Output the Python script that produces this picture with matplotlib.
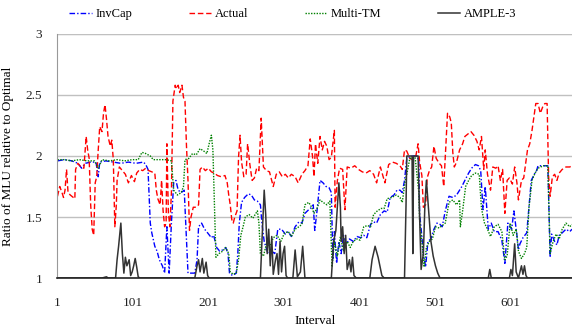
import matplotlib.pyplot as plt

plt.rcParams['font.family'] = ['Liberation Serif', 'DejaVu Serif']

# --- data ---
invcap_x = [1, 10, 20, 28, 33, 38, 45, 52, 55, 57, 65, 75, 85, 95, 105, 115, 118, 121, 124, 126,
            130, 133, 136, 140, 143, 146, 149, 152, 155, 158, 161, 165, 169, 172, 174, 178, 183, 186, 188, 192,
            196, 200, 205, 208, 212, 216, 220, 224, 227, 229, 233, 238, 240, 242, 245, 249, 254, 258, 262, 266,
            270, 272, 275, 280, 285, 289, 293, 298, 303, 307, 311, 316, 321, 325, 329, 334, 338, 340, 342, 345,
            349, 353, 357, 361, 364, 366, 368, 371, 374, 377, 380, 384, 388, 393, 398, 403, 407, 411, 416, 420,
            424, 429, 434, 438, 442, 447, 451, 455, 458, 461, 464, 470, 478, 480, 481, 484, 486, 489, 492, 496,
            500, 504, 508, 511, 515, 520, 525, 530, 534, 537, 541, 546, 550, 555, 559, 562, 565, 568, 572, 576,
            580, 585, 590, 594, 598, 603, 606, 610, 612, 614, 618, 623, 626, 629, 633, 636, 638, 645, 651, 654,
            656, 660, 663, 666, 670, 675, 680, 683]
invcap_y = [1.96, 1.97, 1.96, 1.94, 1.90, 1.94, 1.95, 1.95, 1.83, 1.95, 1.96, 1.95, 1.94, 1.95, 1.94, 1.95, 1.93, 1.89, 1.45, 1.37,
            1.26, 1.22, 1.15, 1.10, 1.04, 1.42, 1.04, 1.45, 1.78, 1.80, 1.72, 1.70, 1.72, 1.30, 1.04, 1.04, 1.04, 1.15, 1.42, 1.45,
            1.40, 1.37, 1.33, 1.35, 1.25, 1.22, 1.23, 1.25, 1.20, 1.04, 1.02, 1.04, 1.20, 1.45, 1.62, 1.66, 1.69, 1.68, 1.64, 1.63,
            1.60, 1.45, 1.30, 1.20, 1.22, 1.20, 1.40, 1.40, 1.36, 1.38, 1.34, 1.42, 1.46, 1.45, 1.53, 1.56, 1.58, 1.60, 1.39, 1.55,
            1.80, 1.78, 1.75, 1.74, 1.70, 1.15, 1.38, 1.12, 1.30, 1.20, 1.35, 1.28, 1.32, 1.30, 1.34, 1.33, 1.35, 1.33, 1.44, 1.46,
            1.45, 1.52, 1.55, 1.54, 1.66, 1.68, 1.72, 1.72, 1.70, 1.80, 1.98, 2.00, 2.00, 1.95, 1.53, 1.34, 1.20, 1.09, 1.30, 1.32,
            1.40, 1.45, 1.44, 1.42, 1.55, 1.67, 1.66, 1.68, 1.72, 1.75, 1.80, 1.86, 1.90, 1.93, 1.92, 1.88, 1.56, 1.75, 1.40, 1.45,
            1.38, 1.38, 1.31, 1.12, 1.45, 1.40, 1.55, 1.35, 1.23, 1.28, 1.33, 1.37, 1.58, 1.80, 1.85, 1.88, 1.92, 1.92, 1.92, 1.17,
            1.36, 1.30, 1.27, 1.35, 1.37, 1.40, 1.38, 1.40]

actual_x = [1, 4, 7, 9, 11, 13, 15, 18, 22, 24, 25, 28, 32, 36, 39, 41, 43, 45, 47, 49,
            51, 53, 55, 57, 60, 62, 64, 66, 68, 71, 73, 75, 77, 79, 80, 83, 87, 91, 95, 99,
            103, 106, 110, 114, 118, 122, 126, 130, 132, 134, 137, 139, 141, 143, 145, 146, 148, 150, 152, 154,
            157, 159, 161, 163, 166, 168, 170, 172, 174, 176, 178, 181, 185, 188, 190, 193, 197, 201, 205, 209,
            213, 218, 223, 226, 228, 230, 232, 234, 236, 239, 241, 243, 245, 248, 251, 253, 256, 259, 262, 265,
            268, 271, 274, 278, 282, 287, 291, 295, 299, 303, 307, 311, 316, 320, 325, 329, 333, 336, 339, 341,
            343, 346, 349, 352, 355, 358, 361, 364, 368, 369, 372, 375, 379, 382, 385, 390, 395, 400, 405, 410,
            415, 420, 424, 429, 435, 440, 445, 450, 455, 458, 461, 464, 468, 472, 476, 479, 481, 484, 486, 489,
            491, 494, 497, 500, 503, 507, 510, 513, 516, 518, 521, 523, 525, 527, 530, 534, 538, 541, 545, 549,
            553, 557, 560, 563, 566, 568, 571, 575, 578, 582, 585, 588, 591, 594, 597, 600, 604, 607, 610, 612,
            616, 619, 621, 624, 627, 630, 632, 635, 638, 641, 644, 647, 650, 652, 654, 657, 660, 663, 666, 670,
            675, 680, 683]
actual_y = [1.67, 1.75, 1.70, 1.66, 1.72, 1.89, 1.70, 1.68, 1.66, 1.65, 1.89, 1.94, 1.91, 1.90, 2.16, 2.05, 1.98, 1.60, 1.40, 1.35,
            1.78, 1.83, 2.05, 2.24, 2.20, 2.35, 2.42, 2.30, 2.16, 2.08, 2.13, 1.97, 1.42, 1.60, 1.80, 1.91, 1.88, 1.85, 1.78, 1.84,
            1.79, 1.86, 1.89, 1.88, 1.90, 1.88, 1.87, 1.86, 1.72, 1.65, 1.60, 1.80, 1.55, 1.42, 1.45, 2.10, 1.53, 1.42, 1.70, 2.45,
            2.58, 2.55, 2.58, 2.52, 2.58, 2.48, 2.45, 2.08, 1.80, 1.39, 1.50, 1.58, 1.58, 1.60, 1.89, 1.91, 1.88, 1.90, 1.87, 1.86,
            1.84, 1.83, 1.84, 1.78, 1.68, 1.60, 1.48, 1.45, 1.50, 1.55, 1.99, 2.17, 1.95, 1.83, 1.85, 2.10, 1.93, 1.80, 1.82, 1.90,
            1.88, 2.31, 1.91, 1.88, 1.87, 1.75, 1.85, 1.87, 1.83, 1.85, 1.82, 1.85, 1.83, 1.78, 1.85, 1.88, 1.92, 2.14, 2.00, 1.83,
            2.10, 1.94, 2.16, 2.05, 2.12, 2.08, 1.97, 1.99, 2.21, 1.58, 1.80, 1.90, 1.89, 1.56, 1.91, 1.90, 1.92, 1.89, 1.87, 1.86,
            1.88, 1.85, 1.78, 1.91, 1.78, 1.93, 1.95, 1.94, 1.92, 1.89, 2.05, 2.04, 1.98, 1.97, 2.00, 2.10, 1.95, 1.84, 1.58, 1.60,
            1.82, 1.88, 1.91, 2.08, 1.98, 1.94, 1.92, 1.75, 2.10, 2.35, 2.32, 2.27, 2.03, 1.91, 1.95, 2.05, 2.10, 2.16, 2.18, 2.20,
            2.17, 2.12, 2.05, 2.16, 1.89, 2.05, 1.85, 1.72, 1.91, 1.90, 1.92, 1.80, 1.89, 1.53, 1.80, 1.82, 1.77, 1.91, 1.78, 1.64,
            1.80, 1.82, 1.91, 2.05, 2.10, 2.21, 2.30, 2.43, 2.43, 2.35, 2.40, 2.43, 2.43, 1.83, 1.67, 1.83, 1.85, 1.80, 1.86, 1.89,
            1.91, 1.91, 1.92]

multitm_x = [1, 10, 20, 30, 40, 50, 55, 60, 70, 80, 90, 100, 108, 113, 118, 124, 128, 135, 145, 152,
             155, 160, 165, 168, 170, 175, 180, 185, 190, 195, 199, 202, 205, 207, 209, 211, 215, 220, 224, 228,
             230, 234, 238, 241, 244, 247, 250, 255, 260, 263, 266, 268, 270, 274, 278, 282, 287, 292, 297, 302,
             307, 311, 316, 321, 325, 329, 334, 338, 341, 345, 349, 353, 358, 362, 365, 368, 372, 376, 380, 385,
             389, 393, 398, 402, 407, 412, 416, 420, 425, 430, 434, 438, 444, 450, 455, 458, 462, 464, 468, 475,
             480, 481, 484, 487, 490, 494, 498, 502, 507, 511, 515, 520, 525, 530, 534, 535, 538, 542, 546, 550,
             555, 560, 563, 567, 571, 575, 580, 585, 590, 594, 597, 601, 605, 609, 612, 616, 620, 623, 626, 630,
             634, 638, 645, 651, 654, 658, 662, 666, 670, 675, 680, 683]
multitm_y = [1.97, 1.97, 1.96, 1.97, 1.96, 1.96, 1.90, 1.97, 1.96, 1.97, 1.96, 1.97, 1.97, 2.03, 2.02, 2.00, 1.97, 1.97, 1.97, 1.96,
             1.72, 1.68, 1.70, 1.75, 1.97, 1.98, 2.02, 2.01, 2.06, 2.04, 2.02, 2.10, 2.17, 2.05, 1.60, 1.17, 1.20, 1.22, 1.25, 1.20,
             1.05, 1.03, 1.04, 1.15, 1.35, 1.42, 1.50, 1.52, 1.49, 1.52, 1.55, 1.45, 1.20, 1.18, 1.28, 1.25, 1.33, 1.35, 1.30, 1.37,
             1.38, 1.34, 1.40, 1.42, 1.44, 1.60, 1.62, 1.58, 1.53, 1.57, 1.64, 1.62, 1.60, 1.63, 1.09, 1.30, 1.18, 1.34, 1.22, 1.30,
             1.25, 1.30, 1.32, 1.31, 1.42, 1.43, 1.42, 1.52, 1.55, 1.57, 1.57, 1.65, 1.66, 1.68, 1.66, 1.62, 1.80, 1.85, 1.98, 1.99,
             1.70, 1.47, 1.30, 1.09, 1.25, 1.30, 1.32, 1.42, 1.41, 1.43, 1.45, 1.62, 1.64, 1.60, 1.64, 1.42, 1.55, 1.75, 1.80, 1.84,
             1.86, 1.85, 1.57, 1.45, 1.40, 1.34, 1.42, 1.44, 1.38, 1.15, 1.18, 1.45, 1.35, 1.40, 1.22, 1.16, 1.20, 1.25, 1.58, 1.80,
             1.86, 1.90, 1.92, 1.92, 1.20, 1.30, 1.36, 1.32, 1.40, 1.45, 1.42, 1.44]

ample_x = [1, 60, 66, 68, 78, 80, 82, 85, 87, 89, 91, 93, 96, 98, 100, 102, 104, 106, 108, 110,
           183, 186, 188, 190, 193, 195, 198, 200, 202, 270, 272, 275, 277, 279, 281, 283, 285, 287, 290, 292,
           294, 296, 298, 300, 302, 304, 306, 313, 316, 319, 323, 326, 329, 364, 367, 370, 374, 376, 377, 379,
           381, 383, 385, 388, 390, 392, 394, 397, 415, 418, 422, 426, 431, 434, 461, 463, 464, 471, 472, 473,
           479, 481, 483, 486, 488, 490, 493, 496, 499, 502, 505, 508, 572, 574, 576, 600, 602, 604, 607, 609,
           612, 616, 618, 620, 622, 624, 683]
ample_y = [1.0, 1.0, 1.01, 1.0, 1.0, 1.15, 1.26, 1.45, 1.20, 1.04, 1.17, 1.10, 1.15, 1.02, 1.05, 1.10, 1.16, 1.09, 1.01, 1.0,
           1.0, 1.10, 1.15, 1.05, 1.16, 1.04, 1.13, 1.02, 1.0, 1.0, 1.30, 1.72, 1.52, 1.20, 1.40, 1.10, 1.34, 1.03, 1.15, 1.20,
           1.03, 1.30, 1.05, 1.20, 1.26, 1.02, 1.0, 1.0, 1.23, 1.01, 1.05, 1.26, 1.0, 1.0, 1.30, 1.39, 1.78, 1.58, 1.30, 1.42,
           1.20, 1.35, 1.07, 1.15, 1.05, 1.17, 1.02, 1.0, 1.0, 1.15, 1.26, 1.17, 1.02, 1.0, 1.0, 1.60, 2.0, 2.0, 1.20, 2.0,
           2.0, 1.50, 1.07, 1.20, 1.60, 1.80, 1.55, 1.30, 1.18, 1.10, 1.04, 1.0, 1.0, 1.07, 1.0, 1.0, 1.07, 1.02, 1.28, 1.05,
           1.0, 1.10, 1.03, 1.10, 1.02, 1.0, 1.0]

fig = plt.figure(figsize=(5.72, 3.29), dpi=100)
ax = fig.add_axes([0.1005, 0.155, 0.8995, 0.7417])

ax.plot(invcap_x, invcap_y, color='#0000ff', lw=1.0, linestyle=(0, (4, 1.5, 1, 1.5)), label='InvCap')
ax.plot(actual_x, actual_y, color='#ff0000', lw=1.0, linestyle=(0, (4, 2)), label='Actual')
ax.plot(multitm_x, multitm_y, color='#008000', lw=1.0, linestyle=(0, (1, 1)), label='Multi-TM')
ax.plot(ample_x, ample_y, color='#333333', lw=1.1, label='AMPLE-3')

ax.set_xlim(1, 683)
ax.set_ylim(1, 3)
ax.set_xticks([1, 101, 201, 301, 401, 501, 601])
ax.set_yticks([1, 1.5, 2, 2.5, 3])
ax.set_yticklabels(['1', '1.5', '2', '2.5', '3'])
ax.tick_params(length=0, labelsize=9.5, colors='#222222')
ax.tick_params(axis='x', pad=14)
ax.tick_params(axis='y', pad=11)
ax.grid(axis='y', color='#c0c0c0', lw=1.0)
ax.set_axisbelow(True)
for s in ['top', 'right']:
    ax.spines[s].set_visible(False)
ax.spines['left'].set_color('#999999')
ax.spines['bottom'].set_color('#222222')
ax.spines['bottom'].set_linewidth(1.2)
ax.axhline(3, color='#aaaaaa', lw=1.5, zorder=0)

ax.set_xlabel('Interval', fontsize=9.5, labelpad=4)
ax.set_ylabel('Ratio of MLU relative to Optimal', fontsize=9.5, labelpad=8)

fig.legend(loc='center', bbox_to_anchor=(0.512, 0.957), ncol=4, frameon=False,
           fontsize=9, handlelength=1.8, handletextpad=0.3, columnspacing=4.5)

fig.savefig('out.png', dpi=100)
